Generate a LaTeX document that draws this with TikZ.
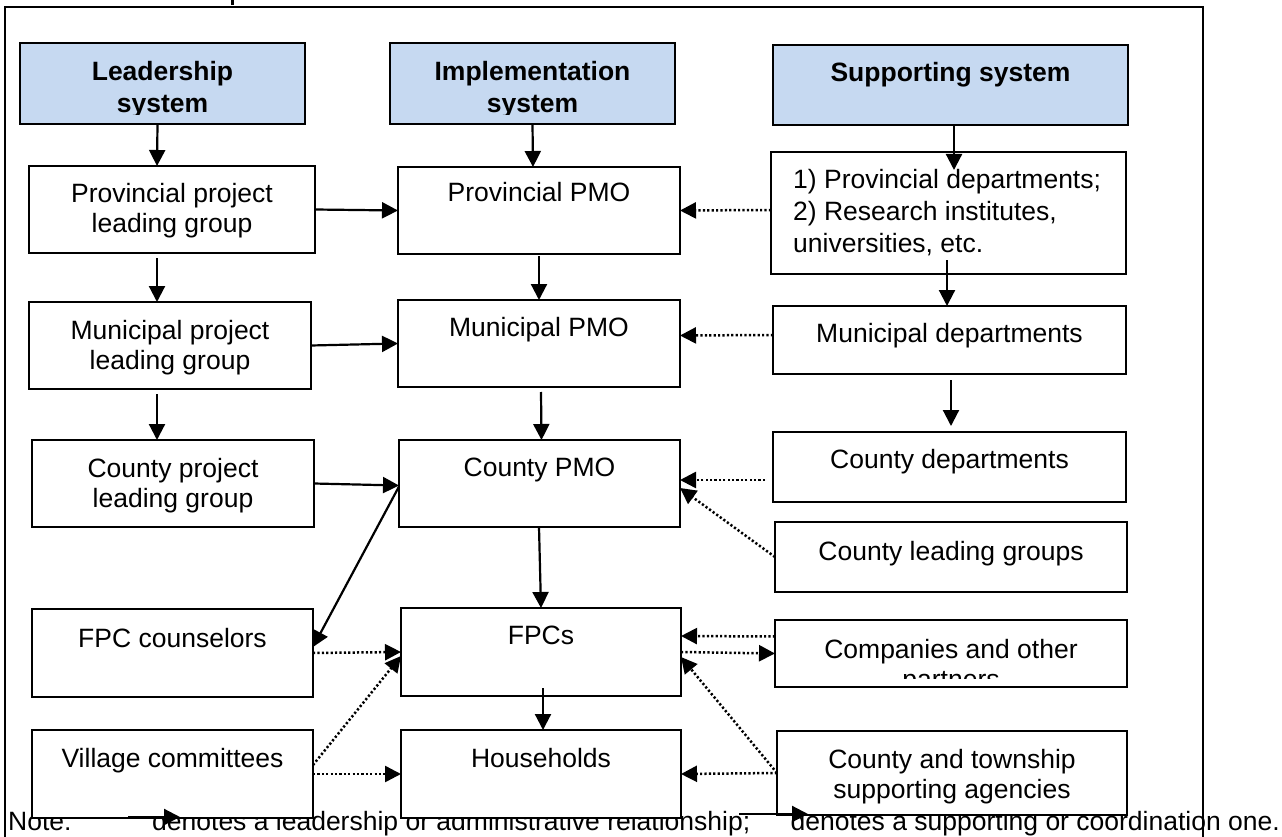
\documentclass[tikz,border=0pt]{standalone}
\usepackage{fontspec}
\setmainfont{Liberation Sans}
\usetikzlibrary{arrows.meta,calc}
\definecolor{hdrblue}{RGB}{198,217,241}
\tikzset{
 box/.style={draw, line width=1.8pt, fill=white, inner sep=0pt, outer sep=0pt},
 hdr/.style={box, fill=hdrblue},
 txt/.style={font=\fontsize{26.5}{30}\selectfont, align=center, inner sep=0pt},
 htxt/.style={font=\bfseries\fontsize{26.5}{32}\selectfont, align=center, inner sep=0pt},
 lead/.style={line width=2.2pt, -{Triangle[length=16pt,width=16pt]}},
 supp/.style={line width=2.5pt, dash pattern=on 2.2pt off 2.2pt, -{Triangle[length=16pt,width=16pt]}},
}
\newcommand\mkbox[6][box]{\node[#1,anchor=north west,minimum width={(#5-#3)*1pt},minimum height={(#6-#4)*1pt}] (#2) at (#3,#4) {};}
\begin{document}
\begin{tikzpicture}[x=1pt,y=-1pt]
\useasboundingbox (0,0) rectangle (1282,837);
% note text (drawn first, partly hidden by boxes)
\node[txt, anchor=base west] (note0) at (8,830) {Note:};
\node[txt, anchor=base west] (note1) at (152,830) {denotes a leadership or administrative relationship;};
\node[txt, anchor=base east] (note2) at (1280,830) {denotes a supporting or coordination one.};
% frame and title stub
\fill (231,0) rectangle (234,5);
\draw[line width=2pt] (5,845) -- (5,7.5) -- (1203,7.5) -- (1203,845);
% headers
\mkbox[hdr]{hL}{20}{43}{305}{124}
\mkbox[hdr]{hI}{390}{43}{675}{124}
\mkbox[hdr]{hS}{773}{45}{1128}{125}
\begin{scope}
\clip (hL.north west) rectangle ([yshift=9pt]hL.south east);
\node[htxt, anchor=base] (t-hL) at (162.5,113) {Leadership\\system};
\end{scope}
\begin{scope}
\clip (hI.north west) rectangle ([yshift=9pt]hI.south east);
\node[htxt, anchor=base] (t-hI) at (532.5,113) {Implementation\\system};
\end{scope}
\node[htxt, anchor=base] (t-hS) at (950.5,82) {Supporting system};
% column 1
\mkbox{plg}{29}{166}{315}{253}
\mkbox{mlg}{29}{302}{311}{389}
\mkbox{clgp}{32}{440}{314}{527}
\mkbox{fpcc}{32}{609}{313}{697}
\mkbox{vc}{32}{730}{313}{818}
% column 2
\mkbox{ppmo}{398}{167}{680}{254}
\mkbox{mpmo}{398}{300}{680}{387}
\mkbox{cpmo}{399}{440}{680}{527}
\mkbox{fpc}{401}{608}{681}{696}
\mkbox{hh}{401}{730}{681}{818}
% column 3
\mkbox{pd}{771}{152}{1126}{274}
\mkbox{md}{773}{306}{1126}{374}
\mkbox{cd}{773}{432}{1126}{502}
\mkbox{clg}{775}{522}{1127}{592}
\mkbox{comp}{775}{620}{1127}{687}
\mkbox{ct}{777}{731}{1127}{815}
% texts
\node[txt, anchor=base] (t-plg) at (172,233) {Provincial project\\leading group};
\node[txt, anchor=base] (t-mlg) at (170,369) {Municipal project\\leading group};
\node[txt, anchor=base] (t-clgp) at (173,507) {County project\\leading group};
\node[txt, anchor=base] (t-fpcc) at (172.5,647) {FPC counselors};
\node[txt, anchor=base] (t-vc) at (172.5,767) {Village committees};
\node[txt, anchor=base] (t-ppmo) at (539,202) {Provincial PMO};
\node[txt, anchor=base] (t-mpmo) at (539,336) {Municipal PMO};
\node[txt, anchor=base] (t-cpmo) at (539.5,476) {County PMO};
\node[txt, anchor=base] (t-fpc) at (541,644) {FPCs};
\node[txt, anchor=base] (t-hh) at (541,767) {Households};
\node[font=\fontsize{26.5}{32}\selectfont, align=left, inner sep=0pt, anchor=base west] (t-pd) at (793,252) {1) Provincial departments;\\2) Research institutes,\\universities, etc.};
\node[txt, anchor=base] (t-md) at (949.5,342) {Municipal departments};
\node[txt, anchor=base] (t-cd) at (949.5,468) {County departments};
\node[txt, anchor=base] (t-clg) at (951,560) {County leading groups};
\begin{scope}
\clip (comp.north west) rectangle ([yshift=9pt]comp.south east);
\node[txt, anchor=base] (t-comp) at (951,688) {Companies and other\\partners};
\end{scope}
\node[txt, anchor=base] (t-ct) at (952,798) {County and township\\supporting agencies};
% leadership arrows
\draw[lead] ([xshift=-5pt]hL.south) -- ([xshift=-15pt]plg.north);
\draw[lead] (hI.south) -- ([xshift=-6pt]ppmo.north);
\draw[lead] ([xshift=3.5pt]hS.south) -- ([xshift=5.5pt,yshift=-18pt]pd.north);
\draw[lead] (plg.east) -- (ppmo.west);
\draw[lead] ([xshift=-15pt,yshift=-5pt]plg.south) -- ([xshift=-13pt]mlg.north);
\draw[lead] (mlg.east) -- (mpmo.west);
\draw[lead] ([xshift=-13pt,yshift=-5pt]mlg.south) -- ([xshift=-16pt]clgp.north);
\draw[lead] (clgp.east) -- ([yshift=-2pt]cpmo.west);
\draw[lead] ([yshift=-3pt]cpmo.west) -- ([yshift=6pt]fpcc.east);
\draw[lead] ([yshift=-2pt]ppmo.south) -- (mpmo.north);
\draw[lead] ([xshift=2pt,yshift=-5pt]mpmo.south) -- ([xshift=2pt]cpmo.north);
\draw[lead] ([xshift=-0.5pt]cpmo.south) -- (fpc.north);
\draw[lead] ([xshift=2pt,yshift=8pt]fpc.south) -- ([xshift=2pt]hh.north);
\draw[lead] ([xshift=-1.5pt,yshift=14pt]pd.south) -- ([xshift=-2.5pt]md.north);
\draw[lead] ([xshift=1.5pt,yshift=-6pt]md.south) -- ([xshift=1.5pt,yshift=6pt]cd.north);
% supporting arrows
\draw[supp] ([yshift=3pt]pd.west) -- (ppmo.east);
\draw[supp] ([yshift=5pt]md.west) -- ([yshift=8pt]mpmo.east);
\draw[supp] ([xshift=-8pt,yshift=-13pt]cd.west) -- ([yshift=3.5pt]cpmo.east);
\draw[supp] (clg.west) -- ([yshift=-4.5pt]cpmo.east);
\draw[supp] ([yshift=17pt]comp.west) -- ([yshift=16pt]fpc.east);
\draw[supp] (fpc.east) -- (comp.west);
\draw[supp] (ct.west) -- ([yshift=-5pt]fpc.east);
\draw[supp] (ct.west) -- (hh.east);
\draw[supp] (fpcc.east) -- (fpc.west);
\draw[supp] ([yshift=9pt]vc.east) -- ([yshift=-4pt]fpc.west);
\draw[supp] (vc.east) -- (hh.west);
% legend arrows
\coordinate (la1) at (128,817);
\coordinate (la2) at (180,817);
\coordinate (lb1) at (739,814);
\coordinate (lb2) at (808,814);
\draw[lead] (la1) -- (la2);
\draw[lead] (lb1) -- (lb2);
\end{tikzpicture}
\end{document}
